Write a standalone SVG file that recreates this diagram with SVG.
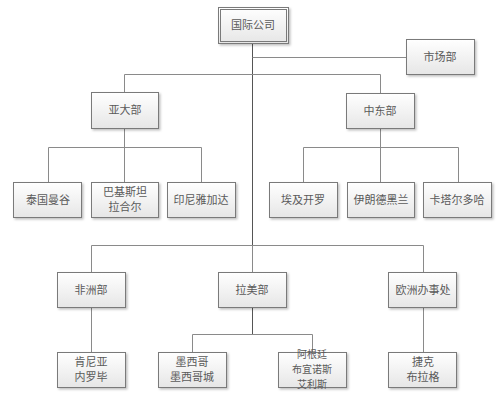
<svg xmlns="http://www.w3.org/2000/svg" width="500" height="399" viewBox="0 0 500 399">
<defs>
<linearGradient id="g" x1="0" y1="0" x2="0" y2="1">
<stop offset="0" stop-color="#ffffff"/>
<stop offset="1" stop-color="#e6e6e6"/>
</linearGradient>
<filter id="sh" x="-10%" y="-10%" width="130%" height="140%">
<feDropShadow dx="1.5" dy="1.5" stdDeviation="1" flood-color="#000" flood-opacity="0.25"/>
</filter>
</defs>
<style>
.b{fill:url(#g);stroke:#7a7a7a;stroke-width:1;filter:url(#sh)}
.t{font-family:"Noto Sans CJK SC","Noto Sans CJK JP",sans-serif;font-size:11px;fill:#5a5a5a;text-anchor:middle}
.s{font-size:10px}
.c{fill:none;stroke:#8a8a8a;stroke-width:1}
.k{fill:none;stroke:#555;stroke-width:1}
</style>
<rect width="500" height="399" fill="#fff"/>
<g id="connectors">
<path class="k" d="M252.5 43V245"/>
<path class="c" d="M252.5 57.5H406"/>
<path class="c" d="M124.5 92V74.5H380.5V93"/>
<path class="c" d="M124.5 128V147.5M48.5 182V147.5H201.5V182M124.5 147.5V182"/>
<path class="c" d="M380.5 128V147.5M303.5 182V147.5H458.5V182M380.5 147.5V182"/>
<path class="c" d="M91.5 272V245.5H423.5V272M252.5 245V272"/>
<path class="c" d="M91.5 307V352"/>
<path class="k" d="M252.5 307V334.5"/>
<path class="c" d="M192.5 352V334.5H312.5V352"/>
<path class="c" d="M423.5 307V352"/>
</g>
<g id="n-root">
<rect class="b" x="218.5" y="7.5" width="70" height="36"/>
<rect x="220.5" y="9.5" width="66" height="32" fill="none" stroke="#7a7a7a"/>
<text class="t" x="253" y="29">国际公司</text>
</g>
<g id="n-market"><rect class="b" x="406.5" y="39.5" width="68" height="35"/><text class="t" x="440" y="61">市场部</text></g>
<g id="n-asia"><rect class="b" x="91.5" y="92.5" width="67" height="36"/><text class="t" x="125" y="114">亚大部</text></g>
<g id="n-me"><rect class="b" x="346.5" y="93.5" width="68" height="35"/><text class="t" x="380" y="115">中东部</text></g>
<g id="n-bangkok"><rect class="b" x="13.5" y="182.5" width="68" height="35"/><text class="t" x="48" y="204">泰国曼谷</text></g>
<g id="n-lahore"><rect class="b" x="91.5" y="182.5" width="67" height="35"/><text class="t" x="125" y="196">巴基斯坦</text><text class="t" x="125" y="211">拉合尔</text></g>
<g id="n-jakarta"><rect class="b" x="167.5" y="182.5" width="68" height="35"/><text class="t" x="201" y="204">印尼雅加达</text></g>
<g id="n-cairo"><rect class="b" x="269.5" y="182.5" width="68" height="35"/><text class="t" x="303" y="204">埃及开罗</text></g>
<g id="n-tehran"><rect class="b" x="347.5" y="182.5" width="67" height="35"/><text class="t" x="381" y="204">伊朗德黑兰</text></g>
<g id="n-doha"><rect class="b" x="423.5" y="182.5" width="68" height="35"/><text class="t" x="457" y="204">卡塔尔多哈</text></g>
<g id="n-africa"><rect class="b" x="57.5" y="272.5" width="68" height="35"/><text class="t" x="91" y="294">非洲部</text></g>
<g id="n-latam"><rect class="b" x="218.5" y="272.5" width="68" height="35"/><text class="t" x="252" y="294">拉美部</text></g>
<g id="n-europe"><rect class="b" x="388.5" y="272.5" width="68" height="35"/><text class="t" x="423" y="294">欧洲办事处</text></g>
<g id="n-nairobi"><rect class="b" x="57.5" y="352.5" width="68" height="35"/><text class="t" x="91" y="366">肯尼亚</text><text class="t" x="91" y="381">内罗毕</text></g>
<g id="n-mexico"><rect class="b" x="158.5" y="352.5" width="68" height="35"/><text class="t" x="192" y="366">墨西哥</text><text class="t" x="192" y="381">墨西哥城</text></g>
<g id="n-ba"><rect class="b" x="278.5" y="352.5" width="68" height="35"/><text class="t s" x="312" y="358">阿根廷</text><text class="t s" x="312" y="373">布宜诺斯</text><text class="t s" x="312" y="388">艾利斯</text></g>
<g id="n-prague"><rect class="b" x="388.5" y="352.5" width="68" height="35"/><text class="t" x="423" y="366">捷克</text><text class="t" x="423" y="381">布拉格</text></g>
</svg>
